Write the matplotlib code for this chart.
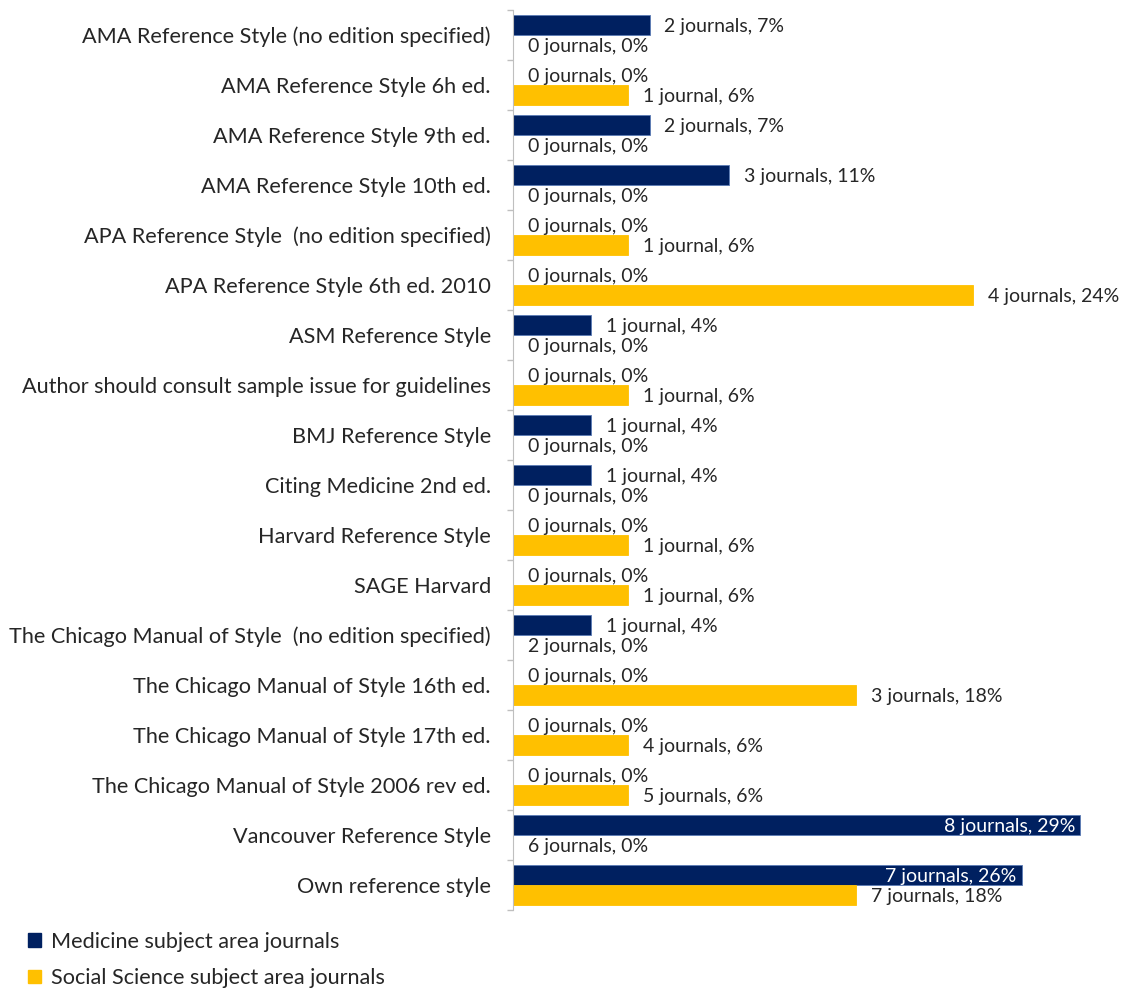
import matplotlib
matplotlib.use('Agg')
import matplotlib.pyplot as plt
import numpy as np
from matplotlib.patches import Patch

# --- data ---
categories = [
    'AMA Reference Style (no edition specified)',
    'AMA Reference Style 6h ed.',
    'AMA Reference Style 9th ed.',
    'AMA Reference Style 10th ed.',
    'APA Reference Style  (no edition specified)',
    'APA Reference Style 6th ed. 2010',
    'ASM Reference Style',
    'Author should consult sample issue for guidelines',
    'BMJ Reference Style',
    'Citing Medicine 2nd ed.',
    'Harvard Reference Style',
    'SAGE Harvard',
    'The Chicago Manual of Style  (no edition specified)',
    'The Chicago Manual of Style 16th ed.',
    'The Chicago Manual of Style 17th ed.',
    'The Chicago Manual of Style 2006 rev ed.',
    'Vancouver Reference Style',
    'Own reference style',
]
# bar lengths (%)
med_pct = [7, 0, 7, 11.1, 0, 0, 4, 0, 4, 4, 0, 0, 4, 0, 0, 0, 29.1, 26.1]
soc_pct = [0, 5.9, 0, 0, 5.9, 23.6, 0, 5.9, 0, 0, 5.9, 5.9, 0, 17.6, 5.9, 5.9, 0, 17.6]
med_labels = ['2 journals, 7%', '0 journals, 0%', '2 journals, 7%', '3 journals, 11%',
              '0 journals, 0%', '0 journals, 0%', '1 journal, 4%', '0 journals, 0%',
              '1 journal, 4%', '1 journal, 4%', '0 journals, 0%', '0 journals, 0%',
              '1 journal, 4%', '0 journals, 0%', '0 journals, 0%', '0 journals, 0%',
              '8 journals, 29%', '7 journals, 26%']
soc_labels = ['0 journals, 0%', '1 journal, 6%', '0 journals, 0%', '0 journals, 0%',
              '1 journal, 6%', '4 journals, 24%', '0 journals, 0%', '1 journal, 6%',
              '0 journals, 0%', '0 journals, 0%', '1 journal, 6%', '1 journal, 6%',
              '2 journals, 0%', '3 journals, 18%', '4 journals, 6%', '5 journals, 6%',
              '6 journals, 0%', '7 journals, 18%']
series_names = ['Medicine subject area journals', 'Social Science subject area journals']

navy = '#002060'
gold = '#FFC000'
txt = '#262626'
plt.rcParams['font.family'] = ['Lato', 'DejaVu Sans']

fig = plt.figure(figsize=(11.24, 9.92), dpi=100)
ax = fig.add_axes([513 / 1124, 1 - 910 / 992, 611 / 1124, 900 / 992])

y = np.arange(len(categories))
h = 0.4
ax.barh(y - 0.2, med_pct, height=h, color=navy, edgecolor='#5a7bb5', linewidth=0.6)
ax.barh(y + 0.2, soc_pct, height=h, color=gold, edgecolor=gold, linewidth=0.6)

# data labels
fs_lab = 14
fs_cat = 15.6
for vals, labs, off in [(med_pct, med_labels, -0.2), (soc_pct, soc_labels, 0.2)]:
    for i, (v, lab) in enumerate(zip(vals, labs)):
        if v > 25:
            ax.annotate(lab, (v, i + off), xytext=(-4, -1), textcoords='offset points',
                        ha='right', va='center', color='white', fontsize=fs_lab)
        else:
            ax.annotate(lab, (v, i + off), xytext=(10.5, -1), textcoords='offset points',
                        ha='left', va='center', color=txt, fontsize=fs_lab)

ax.set_xlim(0, 611 / 19.5)
ax.set_ylim(len(categories) - 0.5, -0.5)
ax.set_yticks(y)
ax.set_yticklabels(categories, fontsize=fs_cat, color=txt)
ax.tick_params(axis='y', which='major', length=0, pad=16)
ax.set_yticks(np.arange(len(categories) + 1) - 0.5, minor=True)
ax.tick_params(axis='y', which='minor', length=4, color='#bfbfbf', width=1)
ax.xaxis.set_visible(False)
for s in ['top', 'right', 'bottom']:
    ax.spines[s].set_visible(False)
ax.spines['left'].set_color('#bfbfbf')

handles = [Patch(color=navy), Patch(color=gold)]
fig.legend(handles, series_names, loc='upper left', bbox_to_anchor=(28 / 1124, 1 - 932 / 992),
           frameon=False, fontsize=fs_cat, handlelength=0.6, handleheight=0.6, handletextpad=0.45,
           labelspacing=0.75, labelcolor=txt, borderaxespad=0, borderpad=0)

fig.savefig('out.png', dpi=100)
